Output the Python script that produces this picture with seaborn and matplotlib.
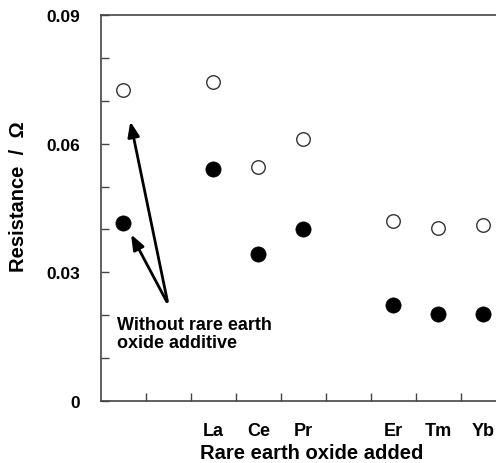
import numpy as np
import pandas as pd
import seaborn as sns
import matplotlib.pyplot as plt

# values
labels = ["", "La", "Ce", "Pr", "Er", "Tm", "Yb"]
x_pos = [0.5, 2.5, 3.5, 4.5, 6.5, 7.5, 8.5]
open_vals = [0.0725, 0.0744, 0.0546, 0.0611, 0.0420, 0.0403, 0.0410]
filled_vals = [0.0415, 0.0541, 0.0343, 0.0401, 0.0224, 0.0203, 0.0203]
y_ticks = [0, 0.03, 0.06, 0.09]
y_ticklabels = ["0", "0.03", "0.06", "0.09"]

df = pd.DataFrame({"x": x_pos, "label": labels, "open": open_vals, "filled": filled_vals})

sns.set_style("white")
plt.rcParams['font.family'] = ['Liberation Sans', 'DejaVu Sans']
plt.rcParams['font.weight'] = 'bold'
plt.rcParams['text.color'] = 'black'
plt.rcParams['axes.labelcolor'] = 'black'
plt.rcParams['xtick.color'] = 'black'
plt.rcParams['ytick.color'] = 'black'

fig = plt.figure(figsize=(4.96, 4.64), dpi=100)
ax = fig.add_axes([0.2036, 0.1336, 0.7964, 0.8319])

sns.scatterplot(data=df, x="x", y="open", ax=ax, s=95, marker="o",
                facecolor="white", edgecolor="#333333", linewidth=1.0, zorder=3)
sns.scatterplot(data=df, x="x", y="filled", ax=ax, s=120, marker="o",
                color="black", edgecolor="black", linewidth=0.5, zorder=3)

ax.set_xlim(0, 8.78)
ax.set_ylim(0, 0.09)

# tick marks between categories, labels under the points
ax.set_xticks(np.arange(1, 9))
ax.set_xticklabels([])
ax.set_xticks(df["x"], minor=True)
ax.set_xticklabels(df["label"], minor=True, fontsize=13, fontweight="bold")
ax.tick_params(axis="x", which="major", direction="in", length=6, width=1,
               color="#444444", bottom=True)
ax.tick_params(axis="x", which="minor", length=0, pad=15, bottom=True)

ax.set_yticks(np.arange(0, 0.0901, 0.01), minor=True)
ax.set_yticks(y_ticks)
ax.set_yticklabels(y_ticklabels, fontsize=12.5, fontweight="bold")
ax.tick_params(axis="y", which="both", direction="in", length=6, width=1,
               color="#444444", pad=15, left=True)

for side in ["left", "bottom", "top"]:
    ax.spines[side].set_color("#444444")
    ax.spines[side].set_linewidth(1.2)
ax.spines["right"].set_visible(False)

ax.set_xlabel("Rare earth oxide added", fontsize=14.5, fontweight="bold")
ax.xaxis.set_label_coords(0.534, -0.108)
ax.set_ylabel("Resistance  /  \u03a9", fontsize=14.5, fontweight="bold")
ax.yaxis.set_label_coords(-0.185, 0.531)

# arrows pointing at the no-additive points
tail = (1.49, 0.0226)
ax.annotate("", xy=(0.64, 0.0658), xytext=tail,
            arrowprops=dict(arrowstyle="-|>,head_length=0.9,head_width=0.35", color="black", lw=2))
ax.annotate("", xy=(0.64, 0.0394), xytext=tail,
            arrowprops=dict(arrowstyle="-|>,head_length=0.9,head_width=0.35", color="black", lw=2))
ax.text(0.36, 0.0198, "Without rare earth\noxide additive", fontsize=13, fontweight="bold",
        va="top", ha="left", linespacing=1.05)

fig.savefig("out.png", dpi=100)
